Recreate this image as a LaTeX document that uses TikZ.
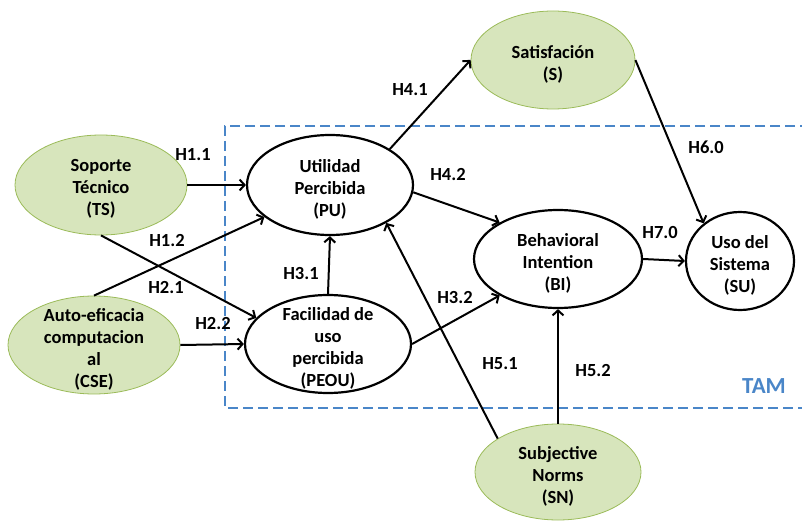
\documentclass[tikz,border=0pt]{standalone}
\usepackage{fontspec}
\setmainfont{Carlito}
\usetikzlibrary{shapes.geometric,arrows.meta}

\definecolor{extfill}{RGB}{215,229,188}
\definecolor{extline}{RGB}{155,187,89}
\definecolor{tamblue}{RGB}{74,134,200}

\tikzset{
  txt/.style={align=center, font=\bfseries\fontsize{18.5}{22}\selectfont},
  vartext/.style={txt, yshift=-4pt},
  var/.style={ellipse, draw=black, line width=2.2pt, fill=white, inner sep=0pt},
  ext/.style={var, draw=extline, line width=0.8pt, fill=extfill},
  hyp/.style={txt},
  arr/.style={-{Straight Barb[length=5pt,width=11pt]}, line width=2pt},
}

\begin{document}
\begin{tikzpicture}[x=1pt,y=-1pt]
  \useasboundingbox (0,0) rectangle (802,521);
  \clip (0,0) rectangle (802,521);

  % TAM box (open to the right)
  \draw[tamblue, line width=2.8pt, dash pattern=on 10pt off 5pt]
    (840,126) -- (225,126) -- (225,408) -- (840,408);
  \node[txt, font=\bfseries\fontsize{23}{26}\selectfont, text=tamblue] (tam) at (764,386) {TAM};

  % external constructs
  \node[ext, minimum width=172pt, minimum height=100pt,
        label={[vartext]center:Soporte\\Técnico\\(TS)}] (ts) at (101,185) {};
  \node[ext, minimum width=172pt, minimum height=98pt,
        label={[vartext]center:Auto-eficacia\\computacion\\al\\(CSE)}] (cse) at (94,345) {};
  \node[ext, minimum width=164pt, minimum height=98pt,
        label={[vartext]center:Satisfación\\(S)}] (s) at (553,60) {};
  \node[ext, minimum width=166pt, minimum height=96pt,
        label={[vartext]center:Subjective\\Norms\\(SN)}] (sn) at (558,472) {};

  % TAM constructs
  \node[var, minimum width=166pt, minimum height=100pt,
        label={[vartext]center:Utilidad\\Percibida\\(PU)}] (pu) at (330,185) {};
  \node[var, minimum width=166pt, minimum height=98pt,
        label={[vartext]center:Facilidad de\\uso\\percibida\\(PEOU)}] (peou) at (328,344) {};
  \node[var, minimum width=168pt, minimum height=98pt,
        label={[vartext]center:Behavioral\\Intention\\(BI)}] (bi) at (558,259) {};
  \node[var, minimum width=108pt, minimum height=98pt,
        label={[vartext]center:Uso del\\Sistema\\(SU)}] (su) at (740,261) {};

  % hypotheses
  \draw[arr] (ts.east) -- (pu.west);
  \draw[arr] (ts.south) -- (peou.160);
  \draw[arr] (cse.north) -- (pu.206);
  \draw[arr] (cse.east) -- (peou.west);
  \draw[arr] (peou.north) -- (pu.south);
  \draw[arr] (peou.east) -- (bi.212);
  \draw[arr] (pu.31) -- (s.west);
  \draw[arr] (pu.-5) -- (bi.148);
  \draw[arr] (sn.151) -- (pu.-34);
  \draw[arr] (sn.north) -- (bi.south);
  \draw[arr] (s.east) -- (su.134);
  \draw[arr] (bi.east) -- (su.west);

  \node[hyp] (h11) at (193,155) {H1.1};
  \node[hyp] (h12) at (167,240) {H1.2};
  \node[hyp] (h21) at (166,287) {H2.1};
  \node[hyp] (h22) at (213,323) {H2.2};
  \node[hyp] (h31) at (301,273) {H3.1};
  \node[hyp] (h32) at (455,297) {H3.2};
  \node[hyp] (h41) at (410,90) {H4.1};
  \node[hyp] (h42) at (448,174) {H4.2};
  \node[hyp] (h51) at (500,364) {H5.1};
  \node[hyp] (h52) at (593,370) {H5.2};
  \node[hyp] (h60) at (706,147) {H6.0};
  \node[hyp] (h70) at (660,232) {H7.0};
\end{tikzpicture}
\end{document}
